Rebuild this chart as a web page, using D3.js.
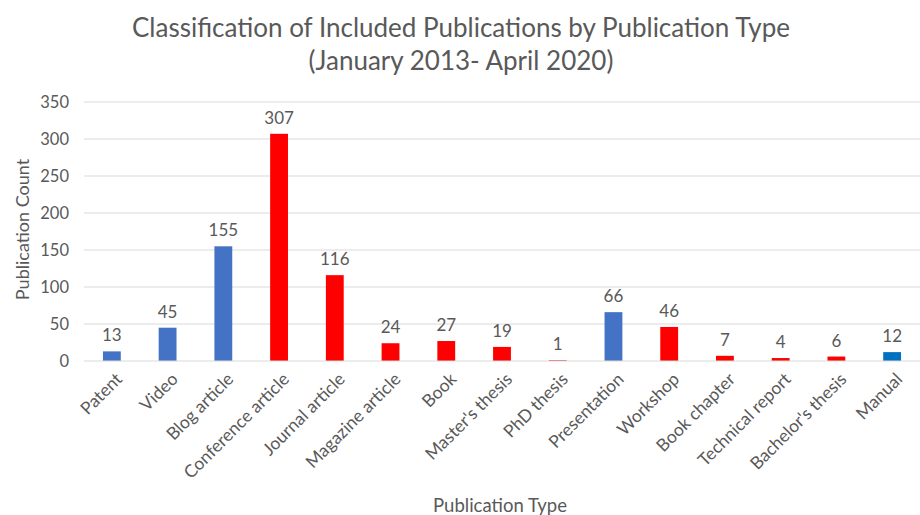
<!DOCTYPE html>
<html>
<head>
<meta charset="utf-8">
<script src="https://cdn.jsdelivr.net/npm/d3@7"></script>
<style>
  body { margin: 0; background: #fff; }
  text { font-family: Lato, "Open Sans", sans-serif; fill: #595959; }
</style>
</head>
<body>
<svg width="920" height="515"></svg>
<script>
const categories = ["Patent", "Video", "Blog article", "Conference article", "Journal article",
  "Magazine article", "Book", "Master's thesis", "PhD thesis", "Presentation", "Workshop",
  "Book chapter", "Technical report", "Bachelor's thesis", "Manual"];
const counts = [13, 45, 155, 307, 116, 24, 27, 19, 1, 66, 46, 7, 4, 6, 12];
const groups = ["blue", "blue", "blue", "red", "red", "red", "red", "red", "red", "blue", "red",
  "red", "red", "red", "manual"];
const yTicks = [0, 50, 100, 150, 200, 250, 300, 350];

const colors = { blue: "#4472C4", red: "#FF0000", manual: "#0070C0" };
const data = categories.map((c, i) => ({ cat: c, val: counts[i], grp: groups[i] }));

const svg = d3.select("svg");
const plotLeft = 84, plotRight = 920, plotTop = 102, plotBottom = 361;

let x = d3.scaleBand()
    .domain(categories)
    .range([plotLeft, plotRight])
    .paddingInner(0.68)
    .paddingOuter(0.34);

let y = d3.scaleLinear()
    .domain([0, 350])
    .range([plotBottom, plotTop]);

// gridlines
svg.append("g")
    .selectAll("line")
    .data(yTicks.slice(1))
    .enter()
    .append("line")
    .attr("x1", plotLeft).attr("x2", plotRight)
    .attr("y1", d => y(d)).attr("y2", d => y(d))
    .attr("stroke", "#d9d9d9")
    .attr("stroke-width", 1);

// y tick labels
svg.append("g")
    .selectAll("text")
    .data(yTicks)
    .enter()
    .append("text")
    .attr("x", 69)
    .attr("y", d => y(d))
    .attr("dy", "0.35em")
    .attr("text-anchor", "end")
    .style("font-size", "16.5px")
    .text(d => d);

// bars
svg.append("g")
    .selectAll("rect")
    .data(data)
    .enter()
    .append("rect")
    .attr("x", d => x(d.cat))
    .attr("width", x.bandwidth())
    .attr("y", d => y(d.val))
    .attr("height", d => plotBottom - y(d.val))
    .attr("fill", d => colors[d.grp]);

// baseline
svg.append("line")
    .attr("x1", plotLeft).attr("x2", plotRight)
    .attr("y1", plotBottom).attr("y2", plotBottom)
    .attr("stroke", "#d9d9d9");

// value labels
svg.append("g")
    .selectAll("text")
    .data(data)
    .enter()
    .append("text")
    .attr("x", d => x(d.cat) + x.bandwidth() / 2)
    .attr("y", d => y(d.val) - 10)
    .attr("text-anchor", "middle")
    .style("font-size", "17px")
    .text(d => d.val);

// category labels
svg.append("g")
    .selectAll("text")
    .data(categories)
    .enter()
    .append("text")
    .attr("transform", d => `translate(${x(d) + x.bandwidth() / 2 + 7},${plotBottom + 15}) rotate(-45)`)
    .attr("text-anchor", "end")
    .attr("dy", "0.35em")
    .style("font-size", "17.5px")
    .text(d => d);

// titles
svg.append("text")
    .attr("x", 461).attr("y", 37)
    .attr("text-anchor", "middle")
    .style("font-size", "26px")
    .text("Classification of Included Publications by Publication Type");
svg.append("text")
    .attr("x", 461).attr("y", 70)
    .attr("text-anchor", "middle")
    .style("font-size", "26px")
    .text("(January 2013- April 2020)");

svg.append("text")
    .attr("transform", `translate(29,${(plotTop + plotBottom) / 2 - 2}) rotate(-90)`)
    .attr("text-anchor", "middle")
    .style("font-size", "18px")
    .text("Publication Count");

svg.append("text")
    .attr("x", 500).attr("y", 512)
    .attr("text-anchor", "middle")
    .style("font-size", "18.5px")
    .text("Publication Type");
</script>
</body>
</html>
